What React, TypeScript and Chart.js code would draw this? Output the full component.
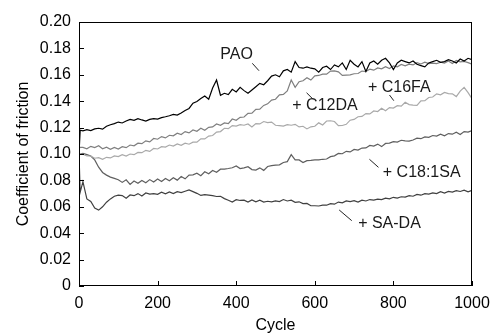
import React, { useEffect, useRef } from "react";
import { Chart, registerables } from "chart.js";

Chart.register(...registerables);

const cycles = [
  0, 3,
  10, 20, 30, 40, 50, 60, 70, 80, 90, 100,
  110, 120, 130, 140, 150, 160, 170, 180, 190, 200,
  210, 220, 230, 240, 250, 260, 270, 280, 290, 300,
  310, 320, 330, 340, 350, 360, 370, 380, 390, 400,
  410, 420, 430, 440, 450, 460, 470, 480, 490, 500,
  510, 520, 530, 540, 550, 560, 570, 580, 590, 600,
  610, 620, 630, 640, 650, 660, 670, 680, 690, 700,
  710, 720, 730, 740, 750, 760, 770, 780, 790, 800,
  810, 820, 830, 840, 850, 860, 870, 880, 890, 900,
  910, 920, 930, 940, 950, 960, 970, 980, 990, 1000,
];

const pao = [
  0.100, 0.118,
  0.1175, 0.1185, 0.1178, 0.1190, 0.1195, 0.1188, 0.1210, 0.1222, 0.1230, 0.1242,
  0.1235, 0.1250, 0.1262, 0.1255, 0.1268, 0.1258, 0.1250, 0.1262, 0.1268, 0.1265,
  0.1275, 0.1282, 0.1290, 0.1300, 0.1295, 0.1310, 0.1330, 0.1345, 0.1385, 0.1398,
  0.1420, 0.1440, 0.1415, 0.1500, 0.1560, 0.1445, 0.1460, 0.1450, 0.1490, 0.1470,
  0.1505, 0.1480, 0.1460, 0.1485, 0.1510, 0.1535, 0.1525, 0.1555, 0.1590, 0.1600,
  0.1585, 0.1630, 0.1640, 0.1620, 0.1700, 0.1655, 0.1650, 0.1660, 0.1650, 0.1645,
  0.1620, 0.1655, 0.1665, 0.1640, 0.1675, 0.1660, 0.1690, 0.1640, 0.1710, 0.1680,
  0.1660, 0.1700, 0.1625, 0.1690, 0.1705, 0.1680, 0.1710, 0.1725, 0.1690, 0.1640,
  0.1690, 0.1710, 0.1700, 0.1690, 0.1705, 0.1680, 0.1670, 0.1660, 0.1690, 0.1700,
  0.1710, 0.1695, 0.1700, 0.1715, 0.1705, 0.1690, 0.1720, 0.1705, 0.1725, 0.1715,
];

const c12da = [
  0.104, 0.105,
  0.1050, 0.1040, 0.1058, 0.1048, 0.1062, 0.1040, 0.1052, 0.1035, 0.1050, 0.1038,
  0.1055, 0.1048, 0.1068, 0.1062, 0.1082, 0.1078, 0.1100, 0.1092, 0.1118, 0.1112,
  0.1132, 0.1122, 0.1142, 0.1138, 0.1158, 0.1148, 0.1170, 0.1160, 0.1182, 0.1172,
  0.1195, 0.1180, 0.1202, 0.1205, 0.1228, 0.1218, 0.1235, 0.1230, 0.1265, 0.1255,
  0.1278, 0.1280, 0.1308, 0.1310, 0.1338, 0.1340, 0.1368, 0.1380, 0.1408, 0.1415,
  0.1448, 0.1452, 0.1478, 0.1560, 0.1505, 0.1548, 0.1555, 0.1578, 0.1560, 0.1592,
  0.1595, 0.1605, 0.1605, 0.1628, 0.1630, 0.1622, 0.1595, 0.1598, 0.1600, 0.1608,
  0.1610, 0.1628, 0.1625, 0.1642, 0.1635, 0.1652, 0.1645, 0.1662, 0.1648, 0.1668,
  0.1660, 0.1678, 0.1668, 0.1680, 0.1675, 0.1692, 0.1682, 0.1695, 0.1685, 0.1688,
  0.1685, 0.1695, 0.1688, 0.1705, 0.1685, 0.1708, 0.1698, 0.1702, 0.1692, 0.1680,
];

const c16fa = [
  0.1005, 0.1000,
  0.0998, 0.0985, 0.0985, 0.0968, 0.0972, 0.0960, 0.0975, 0.0970, 0.0985, 0.0980,
  0.0995, 0.0985, 0.1000, 0.0995, 0.1012, 0.1010, 0.1028, 0.1020, 0.1042, 0.1038,
  0.1055, 0.1052, 0.1068, 0.1060, 0.1076, 0.1066, 0.1082, 0.1074, 0.1090, 0.1090,
  0.1115, 0.1114, 0.1136, 0.1140, 0.1166, 0.1170, 0.1195, 0.1192, 0.1215, 0.1212,
  0.1222, 0.1218, 0.1228, 0.1205, 0.1230, 0.1228, 0.1246, 0.1238, 0.1242, 0.1218,
  0.1215, 0.1212, 0.1222, 0.1218, 0.1225, 0.1205, 0.1210, 0.1190, 0.1206, 0.1210,
  0.1236, 0.1220, 0.1250, 0.1252, 0.1246, 0.1215, 0.1216, 0.1225, 0.1256, 0.1262,
  0.1282, 0.1285, 0.1306, 0.1304, 0.1326, 0.1322, 0.1346, 0.1328, 0.1352, 0.1348,
  0.1366, 0.1362, 0.1392, 0.1374, 0.1370, 0.1368, 0.1402, 0.1404, 0.1428, 0.1432,
  0.1456, 0.1448, 0.1466, 0.1458, 0.1456, 0.1435, 0.1476, 0.1505, 0.1465, 0.1420,
];

const c181sa = [
  0.1000, 0.1000,
  0.1005, 0.0995, 0.0985, 0.0955, 0.0900, 0.0860, 0.0840, 0.0825, 0.0815, 0.0805,
  0.0785, 0.0805, 0.0770, 0.0795, 0.0778, 0.0800, 0.0782, 0.0806, 0.0788, 0.0810,
  0.0792, 0.0815, 0.0798, 0.0820, 0.0802, 0.0830, 0.0812, 0.0840, 0.0842, 0.0855,
  0.0836, 0.0865, 0.0850, 0.0875, 0.0862, 0.0885, 0.0886, 0.0890, 0.0896, 0.0910,
  0.0890, 0.0895, 0.0904, 0.0882, 0.0878, 0.0895, 0.0876, 0.0905, 0.0912, 0.0915,
  0.0918, 0.0936, 0.0942, 0.0995, 0.0955, 0.0955, 0.0935, 0.0950, 0.0952, 0.0956,
  0.0956, 0.0960, 0.0962, 0.0980, 0.0986, 0.1004, 0.1002, 0.1020, 0.1016, 0.1035,
  0.1030, 0.1045, 0.1046, 0.1065, 0.1060, 0.1075, 0.1056, 0.1080, 0.1082, 0.1094,
  0.1090, 0.1104, 0.1100, 0.1098, 0.1106, 0.1120, 0.1116, 0.1130, 0.1126, 0.1140,
  0.1136, 0.1150, 0.1138, 0.1155, 0.1150, 0.1165, 0.1148, 0.1170, 0.1166, 0.1178,
];

const sada = [
  0.1000, 0.0710,
  0.0790, 0.0660, 0.0640, 0.0590, 0.0575, 0.0600, 0.0635, 0.0660, 0.0680, 0.0688,
  0.0685, 0.0665, 0.0690, 0.0684, 0.0700, 0.0682, 0.0705, 0.0696, 0.0700, 0.0694,
  0.0710, 0.0698, 0.0712, 0.0700, 0.0715, 0.0708, 0.0718, 0.0728, 0.0715, 0.0702,
  0.0686, 0.0692, 0.0688, 0.0684, 0.0678, 0.0680, 0.0662, 0.0650, 0.0636, 0.0654,
  0.0648, 0.0650, 0.0636, 0.0652, 0.0638, 0.0650, 0.0636, 0.0642, 0.0638, 0.0645,
  0.0640, 0.0655, 0.0644, 0.0650, 0.0634, 0.0638, 0.0624, 0.0626, 0.0608, 0.0608,
  0.0606, 0.0612, 0.0612, 0.0624, 0.0620, 0.0636, 0.0630, 0.0645, 0.0640, 0.0646,
  0.0636, 0.0650, 0.0644, 0.0655, 0.0650, 0.0658, 0.0654, 0.0666, 0.0660, 0.0672,
  0.0666, 0.0676, 0.0674, 0.0685, 0.0680, 0.0694, 0.0688, 0.0700, 0.0696, 0.0706,
  0.0700, 0.0714, 0.0704, 0.0716, 0.0712, 0.0722, 0.0716, 0.0726, 0.0714, 0.0725,
];

const seriesNames = ["PAO", "+ C12DA", "+ C16FA", "+ C18:1SA", "+ SA-DA"];
const seriesColors = ["#000000", "#7f7f7f", "#a9a9a9", "#5f5f5f", "#404040"];
const seriesValues = [pao, c12da, c16fa, c181sa, sada];

// label annotations in data units: text center, then leader line from -> to
const labelTexts = ["PAO", "+ C16FA", "+ C12DA", "+ C18:1SA", "+ SA-DA"];
const labelX = [401, 815, 626, 872, 790];
const labelY = [0.175, 0.1504, 0.1367, 0.086, 0.047];
const leaderX1 = [441, 790, 579, 739, 662];
const leaderY1 = [0.1687, 0.1447, 0.1464, 0.096, 0.0576];
const leaderX2 = [458, 801, 596, 762, 694];
const leaderY2 = [0.1631, 0.1404, 0.1414, 0.0899, 0.0495];

const yTicks = [0, 0.02, 0.04, 0.06, 0.08, 0.1, 0.12, 0.14, 0.16, 0.18, 0.2];
const xTicks = [0, 200, 400, 600, 800, 1000];

const FONT = "'Liberation Sans', Arial, sans-serif";

const framePlugin = {
  id: "frameAndLabels",
  afterDatasetsDraw(chart: any) {
    const { ctx, chartArea: a, scales } = chart;
    const xs = scales.x;
    const ys = scales.y;
    ctx.save();
    ctx.strokeStyle = "#000";
    ctx.lineWidth = 1;
    ctx.strokeRect(a.left + 0.5, a.top + 0.5, a.right - a.left - 1, a.bottom - a.top - 1);
    ctx.beginPath();
    yTicks.forEach((v) => {
      const py = Math.round(ys.getPixelForValue(v)) + 0.5;
      ctx.moveTo(a.left, py);
      ctx.lineTo(a.left + 5, py);
    });
    xTicks.forEach((v) => {
      const px = Math.round(xs.getPixelForValue(v)) + 0.5;
      ctx.moveTo(px, a.bottom);
      ctx.lineTo(px, a.bottom - 5);
    });
    ctx.stroke();

    ctx.fillStyle = "#1a1a1a";
    ctx.font = `16px ${FONT}`;
    ctx.textAlign = "center";
    ctx.textBaseline = "middle";
    ctx.strokeStyle = "#222";
    ctx.lineWidth = 1;
    labelTexts.forEach((t, i) => {
      ctx.fillText(t, xs.getPixelForValue(labelX[i]), ys.getPixelForValue(labelY[i]));
      ctx.beginPath();
      ctx.moveTo(xs.getPixelForValue(leaderX1[i]), ys.getPixelForValue(leaderY1[i]));
      ctx.lineTo(xs.getPixelForValue(leaderX2[i]), ys.getPixelForValue(leaderY2[i]));
      ctx.stroke();
    });
    ctx.restore();
  },
};

export default function App() {
  const ref = useRef<HTMLCanvasElement | null>(null);
  useEffect(() => {
    if (!ref.current) return;
    const datasets = seriesValues.map((vals, i) => ({
      label: seriesNames[i],
      data: vals.map((v, j) => ({ x: cycles[j], y: v })),
      borderColor: seriesColors[i],
      borderWidth: 1.2,
      pointRadius: 0,
      tension: 0,
      fill: false,
    }));
    const chart = new Chart(ref.current, {
      type: "line",
      data: { datasets },
      plugins: [framePlugin],
      options: {
        animation: false,
        responsive: false,
        maintainAspectRatio: false,
        layout: { padding: { left: 0, right: 20, top: 22, bottom: 0 } },
        plugins: { legend: { display: false }, tooltip: { enabled: false } },
        scales: {
          x: {
            type: "linear",
            min: 0,
            max: 1000,
            afterFit: (s: any) => {
              s.height = 48;
              s.paddingLeft = 0;
              s.paddingRight = 0;
            },
            afterBuildTicks: (s: any) => {
              s.ticks = xTicks.map((v) => ({ value: v }));
            },
            grid: { display: false, drawTicks: false },
            border: { display: false },
            ticks: {
              color: "#000",
              font: { family: FONT, size: 16 },
              padding: 8,
              maxRotation: 0,
              callback: (v: any) => String(v),
            },
            title: {
              display: true,
              text: "Cycle",
              color: "#000",
              font: { family: FONT, size: 16, lineHeight: 1 },
              padding: { top: 0, bottom: 0 },
            },
          },
          y: {
            type: "linear",
            min: 0,
            max: 0.2,
            afterFit: (s: any) => {
              s.width = 79;
              s.paddingTop = 0;
              s.paddingBottom = 0;
            },
            afterBuildTicks: (s: any) => {
              s.ticks = yTicks.map((v) => ({ value: v }));
            },
            grid: { display: false, drawTicks: false },
            border: { display: false },
            ticks: {
              color: "#000",
              font: { family: FONT, size: 16 },
              padding: 8,
              callback: (v: any) => (v === 0 ? "0" : Number(v).toFixed(2)),
            },
            title: {
              display: true,
              text: "Coefficient of friction",
              color: "#000",
              font: { family: FONT, size: 16, lineHeight: 1.2 },
              padding: { top: 14, bottom: 0 },
            },
          },
        },
      },
    });
    return () => chart.destroy();
  }, []);
  return (
    <div style={{ position: "fixed", left: 0, top: 0, width: 492, height: 334, background: "#fff" }}>
      <canvas ref={ref} width={492} height={334} style={{ width: 492, height: 334 }} />
    </div>
  );
}
